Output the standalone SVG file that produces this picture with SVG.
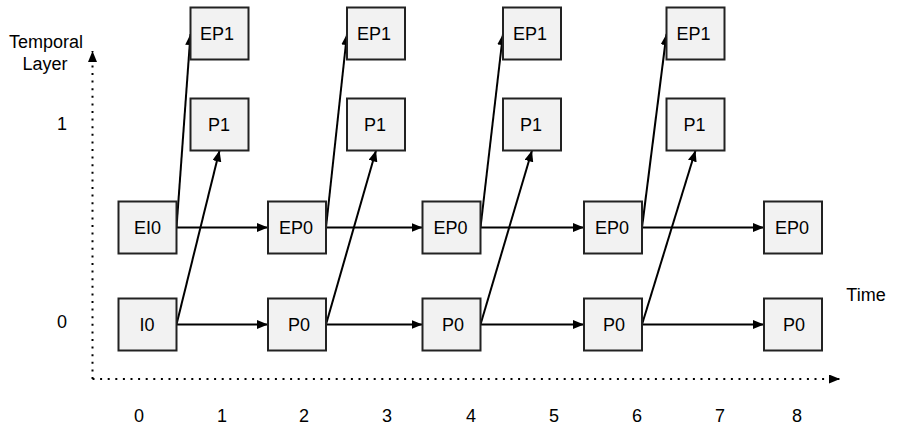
<svg xmlns="http://www.w3.org/2000/svg" width="898" height="440" viewBox="0 0 898 440">
<style>
.box{fill:#f2f2f2;stroke:#222;stroke-width:2}
.t{font-family:"Liberation Sans",Arial,sans-serif;font-size:18px;fill:#000;text-anchor:middle}
.c{stroke:#000;stroke-width:2;fill:none;marker-end:url(#ah)}
.ax{stroke:#000;stroke-width:2;fill:none;stroke-dasharray:2 5.6;marker-end:url(#ah)}
</style>
<defs>
<marker id="ah" markerUnits="userSpaceOnUse" markerWidth="12" markerHeight="10" refX="11" refY="4.5" orient="auto">
<path d="M0,0 L11,4.5 L0,9 z" fill="#000"/>
</marker>
</defs>
<rect width="898" height="440" fill="#fff"/>
<g id="axes">
<path class="ax" d="M92.5,379 L92.5,51"/>
<path class="ax" d="M92.5,379 L840,379"/>
<text class="t" x="46" y="48">Temporal</text>
<text class="t" x="45" y="70">Layer</text>
<text class="t" x="62" y="130">1</text>
<text class="t" x="62" y="328">0</text>
<text class="t" x="866" y="301">Time</text>
<text class="t" x="139" y="422">0</text>
<text class="t" x="222" y="422">1</text>
<text class="t" x="304" y="422">2</text>
<text class="t" x="387" y="422">3</text>
<text class="t" x="471" y="422">4</text>
<text class="t" x="554" y="422">5</text>
<text class="t" x="637" y="422">6</text>
<text class="t" x="720" y="422">7</text>
<text class="t" x="797" y="422">8</text>
</g>
<g id="connectors">
<path class="c" d="M176.5,227.5 L268,227.5"/>
<path class="c" d="M326,227.5 L422.5,227.5"/>
<path class="c" d="M480.5,227.5 L584,227.5"/>
<path class="c" d="M642,227.5 L764,227.5"/>
<path class="c" d="M176.5,324.5 L268,324.5"/>
<path class="c" d="M326,324.5 L422.5,324.5"/>
<path class="c" d="M480.5,324.5 L584,324.5"/>
<path class="c" d="M642,324.5 L764,324.5"/>
<path class="c" d="M176.5,227.5 L190.5,34"/>
<path class="c" d="M326,227.5 L347,34"/>
<path class="c" d="M480.5,227.5 L503,34"/>
<path class="c" d="M642,227.5 L666.5,34"/>
<path class="c" d="M176.5,324.5 L219.5,150.5"/>
<path class="c" d="M326,324.5 L376,150.5"/>
<path class="c" d="M480.5,324.5 L532,150.5"/>
<path class="c" d="M642,324.5 L695.5,150.5"/>
</g>
<g id="n-EI0"><rect class="box" x="118.5" y="201.5" width="58" height="52"/><text class="t" x="147.5" y="234">EI0</text></g>
<g id="n-I0"><rect class="box" x="118.5" y="298.5" width="58" height="52"/><text class="t" x="147" y="331">I0</text></g>
<g id="n-EP1-1"><rect class="box" x="190.5" y="7.5" width="58" height="52"/><text class="t" x="217" y="40">EP1</text></g>
<g id="n-P1-1"><rect class="box" x="190.5" y="98.5" width="58" height="52"/><text class="t" x="219" y="131">P1</text></g>
<g id="n-EP0-2"><rect class="box" x="268" y="201.5" width="58" height="52"/><text class="t" x="296" y="234">EP0</text></g>
<g id="n-P0-2"><rect class="box" x="268" y="298.5" width="58" height="52"/><text class="t" x="299" y="331">P0</text></g>
<g id="n-EP1-3"><rect class="box" x="347" y="7.5" width="58" height="52"/><text class="t" x="374" y="40">EP1</text></g>
<g id="n-P1-3"><rect class="box" x="347" y="98.5" width="58" height="52"/><text class="t" x="375" y="131">P1</text></g>
<g id="n-EP0-4"><rect class="box" x="422.5" y="201.5" width="58" height="52"/><text class="t" x="450.5" y="234">EP0</text></g>
<g id="n-P0-4"><rect class="box" x="422.5" y="298.5" width="58" height="52"/><text class="t" x="453" y="331">P0</text></g>
<g id="n-EP1-5"><rect class="box" x="503" y="7.5" width="58" height="52"/><text class="t" x="530" y="40">EP1</text></g>
<g id="n-P1-5"><rect class="box" x="503" y="98.5" width="58" height="52"/><text class="t" x="531" y="131">P1</text></g>
<g id="n-EP0-6"><rect class="box" x="584" y="201.5" width="58" height="52"/><text class="t" x="612" y="234">EP0</text></g>
<g id="n-P0-6"><rect class="box" x="584" y="298.5" width="58" height="52"/><text class="t" x="614" y="331">P0</text></g>
<g id="n-EP1-7"><rect class="box" x="666.5" y="7.5" width="58" height="52"/><text class="t" x="693.5" y="40">EP1</text></g>
<g id="n-P1-7"><rect class="box" x="666.5" y="98.5" width="58" height="52"/><text class="t" x="694.5" y="131">P1</text></g>
<g id="n-EP0-8"><rect class="box" x="764" y="201.5" width="58" height="52"/><text class="t" x="792" y="234">EP0</text></g>
<g id="n-P0-8"><rect class="box" x="764" y="298.5" width="58" height="52"/><text class="t" x="794" y="331">P0</text></g>
</svg>
